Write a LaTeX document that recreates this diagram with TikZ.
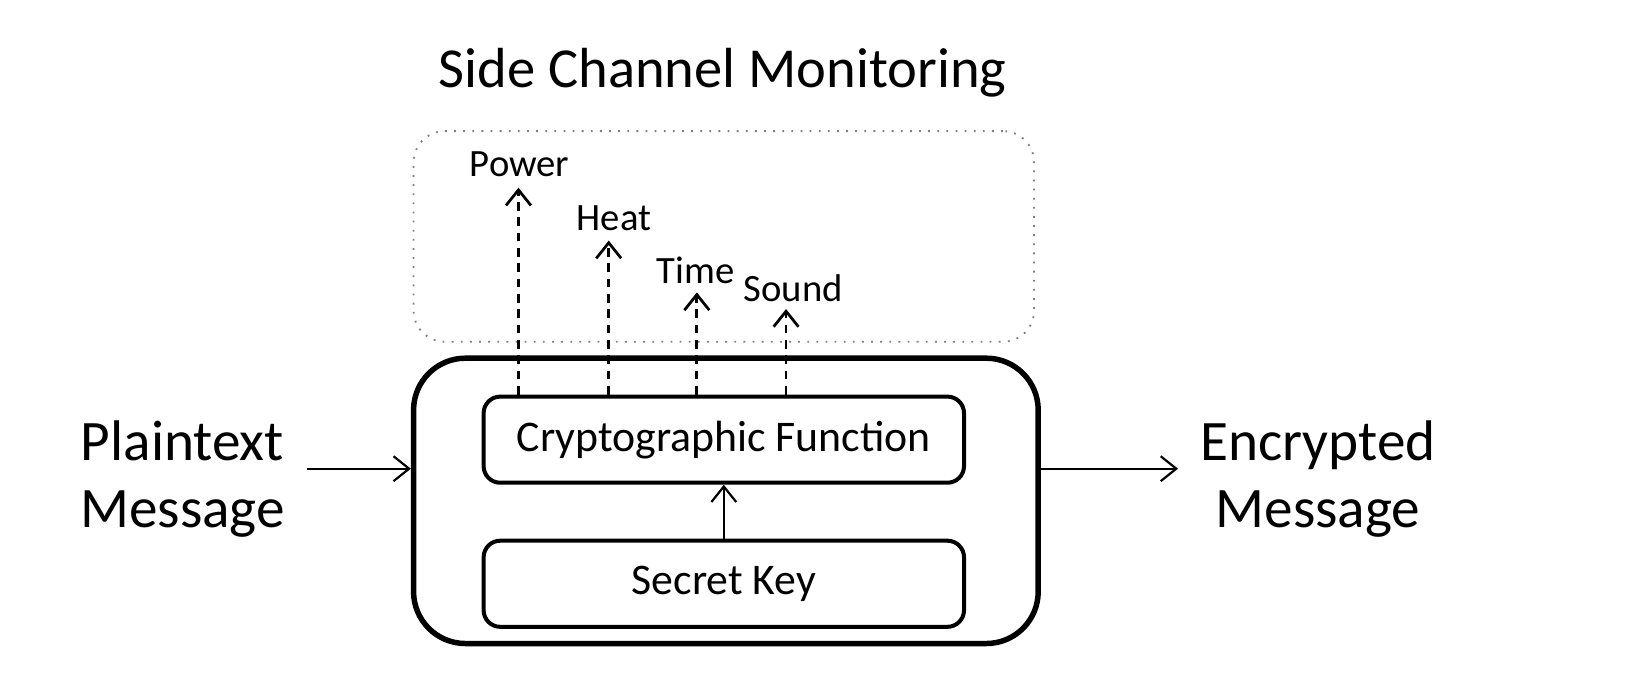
\documentclass[tikz,border=0pt]{standalone}
\usepackage{fontspec}
\setmainfont{Carlito}
\usetikzlibrary{positioning}
\usetikzlibrary{arrows.meta}

\begin{document}
\begin{tikzpicture}[x=0.01cm, y=-0.01cm, node distance = 0.52cm]
    \tikzset{
    block/.style=
    {
        draw,
        rounded corners = 0.16cm,
        line width = 1.1pt,
        minimum width = 4.63cm,
        minimum height = 0.83cm,
        font = \fontsize{12}{14}\selectfont
    },
    flow/.style=
    {
        line width = 0.6pt,
        -{Straight Barb[length=1.5mm, width=2.4mm]}
    },
    leak/.style=
    {
        line width = 0.75pt,
        dash pattern = on 2.4pt off 1.8pt,
        -{Straight Barb[length=1.5mm, width=2.4mm]}
    },
    signal/.style=
    {
        inner sep = 1pt,
        font = \fontsize{10.6}{13}\selectfont
    },
    endpoint/.style=
    {
        align = center,
        font = \fontsize{15.7}{18.5}\selectfont
    }
}

  \useasboundingbox (0,0) rectangle (1568,658);

  % monitoring area
  \node[draw, gray, dotted, line width = 0.5pt, rounded corners = 0.3cm,
        minimum width = 5.98cm, minimum height = 2.03cm] (monitor) at (698,228) {};
  \node[font = \fontsize{15.5}{18}\selectfont] (title) at (697,70) {Side Channel Monitoring};

  % device
  \node[draw, line width = 1.5pt, rounded corners = 0.5cm,
        minimum width = 6.02cm, minimum height = 2.75cm] (device) at (700,483) {};
  \node[block] (crypto) at (698,424) {Cryptographic Function};
  \node[block, below = of crypto] (key) {Secret Key};

  \draw[flow] (key) -- (crypto);

  % leakage channels
  \node[signal] (power) at (501,158) {Power};
  \node[signal] (heat) at (592,210) {Heat};
  \node[signal] (time) at (671,261) {Time};
  \node[signal] (sound) at (765,278) {Sound};

  \draw[leak] (crypto.north -| 500,0) -- (500,181);
  \draw[leak] (crypto.north -| 587,0) -- (587,232);
  \draw[leak] (crypto.north -| 672,0) -- (672,282);
  \draw[leak] (crypto.north -| 758,0) -- (758,298);

  % input and output
  \node[endpoint] (plain) at (176,462) {Plaintext\\Message};
  \node[endpoint] (cipher) at (1271,462) {Encrypted\\Message};

  \coordinate (in) at (296,452);
  \coordinate (out) at (1136,452);
  \draw[flow] (in) -- (in -| device.west);
  \draw[flow] (out -| device.east) -- (out);

\end{tikzpicture}
\end{document}
